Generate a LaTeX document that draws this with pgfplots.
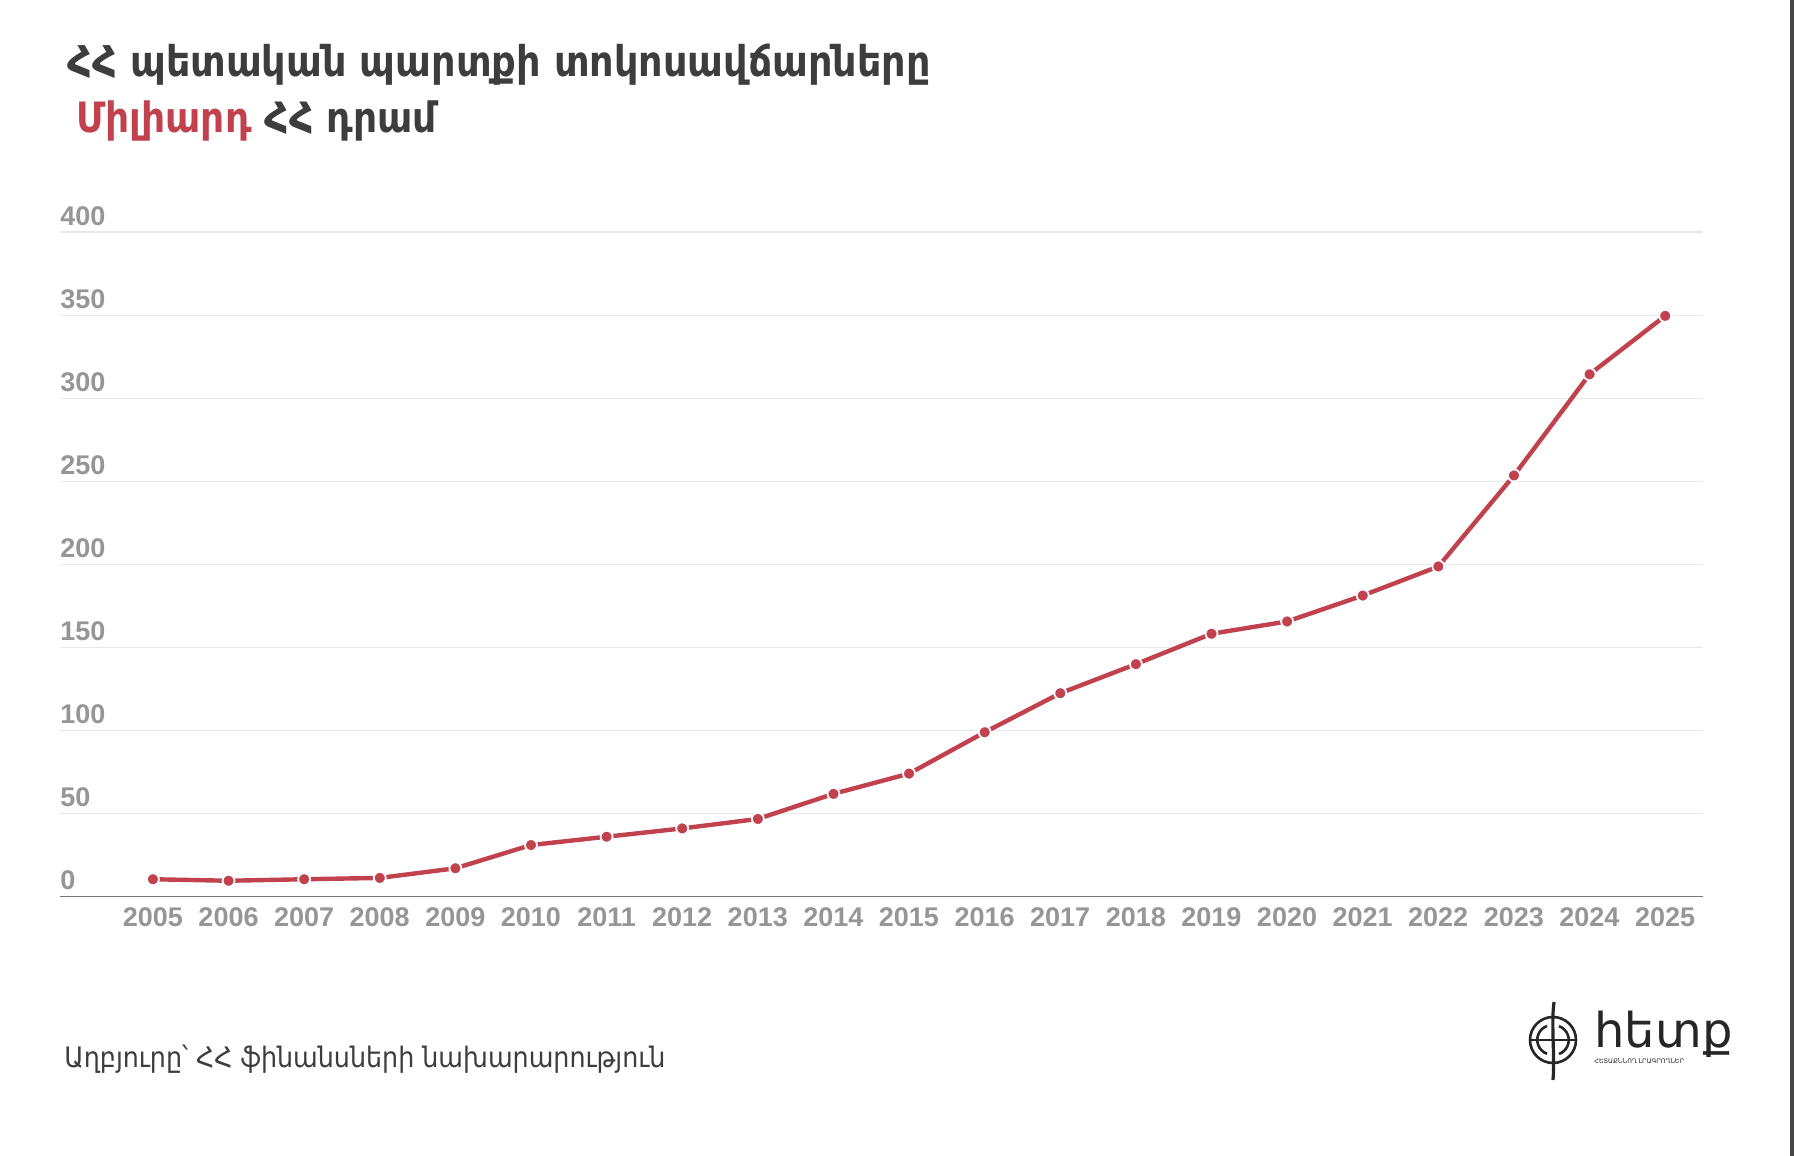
\documentclass[border=0pt]{standalone}
\usepackage{pgfplots}
\pgfplotsset{compat=1.18}
\usepackage{fontspec}
\setmainfont{Liberation Sans}
\newfontfamily\armfont{DejaVu Sans Condensed}
\newfontfamily\armlogo{DejaVu Sans}
\definecolor{linered}{RGB}{193,66,78}
\definecolor{titlegray}{RGB}{61,61,61}
\definecolor{tickgray}{RGB}{150,150,150}
\definecolor{gridgray}{RGB}{232,232,232}
\definecolor{axisgray}{RGB}{120,120,120}
\definecolor{edgegray}{RGB}{70,70,70}
\begin{document}
\begin{tikzpicture}
\path[use as bounding box] (0,0) rectangle (897pt,578pt);
\fill[white] (0,0) rectangle (897pt,578pt);
% right edge bar
\fill[edgegray] (895pt,0) rectangle (897pt,578pt);
% titles
\node[anchor=base west, inner sep=0pt, text=titlegray] at (33.5pt,539.5pt)
  {\fontsize{21.2}{24}\selectfont\armfont\bfseries ՀՀ պետական պարտքի տոկոսավճարները};
\node[anchor=base west, inner sep=0pt, text=titlegray] at (38pt,511.6pt)
  {\fontsize{20.9}{24}\selectfont\armfont\bfseries \textcolor{linered}{Միլիարդ} ՀՀ դրամ};
% source
\node[anchor=base west, inner sep=0pt, text=titlegray] at (32pt,44pt)
  {\fontsize{14.1}{16}\selectfont\armfont Աղբյուրը՝ ՀՀ ֆինանսների նախարարություն};
% logo icon
\begin{scope}[shift={(776.5pt,58pt)}, draw=black!85, line width=1.3pt]
  \draw (0,0) circle (11.5pt);
  \draw (-3pt,7pt) arc (110:250:7.4pt);
  \draw (3pt,-7pt) arc (-70:70:7.4pt);
  \draw (-11.5pt,0) -- (11.5pt,0);
  \draw[line width=1.6pt] (0.5pt,19pt) .. controls (-1pt,8pt) and (1pt,-8pt) .. (0pt,-20pt);
\end{scope}
\node[anchor=base west, inner sep=0pt, text=black!85] at (797pt,54pt)
  {\fontsize{24}{24}\selectfont\armlogo հետք};
\node[anchor=base west, inner sep=0pt, text=black!85] at (797pt,46pt)
  {\fontsize{3.2}{4}\selectfont\armlogo ՀԵՏԱՔՆՆՈՂ ԼՐԱԳՐՈՂՆԵՐ};
\begin{axis}[
  at={(30pt,129.65pt)}, anchor=south west,
  scale only axis, width=821.5pt, height=332.2pt,
  xmin=2003.771, xmax=2025.5, ymin=0, ymax=400,
  xtick={2005,...,2025}, ytick={0,50,...,400},
  /pgf/number format/1000 sep={},
  /pgf/number format/assume math mode=true,
  axis x line*=bottom, axis y line*=left,
  x axis line style={-, draw=axisgray, line width=0.8pt},
  y axis line style={draw=none},
  major tick length=0pt,
  tick style={draw=none},
  ymajorgrids, grid style={draw=gridgray, line width=0.8pt},
  ticklabel style={font=\fontsize{13.5}{16}\selectfont\bfseries, text=tickgray, inner sep=0pt},
  yticklabel style={anchor=base west, yshift=3.6pt},
  xticklabel style={anchor=north, yshift=-5.5pt},
  clip=false,
]
\addplot[color=linered, line width=2.2pt, mark=*, mark size=3pt,
  mark options={fill=linered, draw=white, line width=0.9pt}]
coordinates {
(2005,10.5) (2006,9.6) (2007,10.5) (2008,11.3) (2009,17.1) (2010,31.1)
(2011,36.1) (2012,41.1) (2013,46.8) (2014,61.9) (2015,74.1) (2016,99.0)
(2017,122.5) (2018,140.0) (2019,158.3) (2020,165.7) (2021,181.3) (2022,198.8)
(2023,253.6) (2024,314.5) (2025,349.7)
};
\end{axis}
\end{tikzpicture}
\end{document}
